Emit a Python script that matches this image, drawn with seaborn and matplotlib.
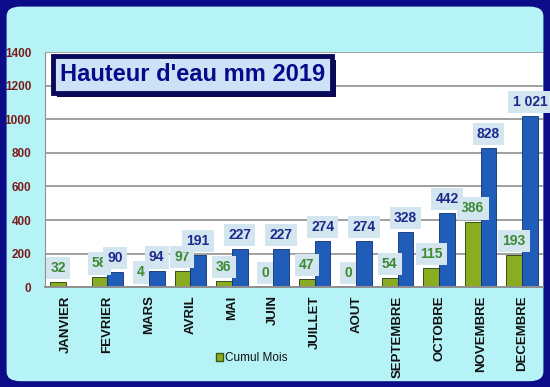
import numpy as np
import pandas as pd
import matplotlib
matplotlib.use("Agg")
import matplotlib.pyplot as plt
import matplotlib.patheffects as pe
from matplotlib.patches import FancyBboxPatch, Patch
from matplotlib.ticker import MultipleLocator
import seaborn as sns

sns.set_style("white")
plt.rcParams['font.family'] = ['Liberation Sans', 'DejaVu Sans']

# Data
mois = ['JANVIER', 'FEVRIER', 'MARS', 'AVRIL', 'MAI', 'JUIN', 'JUILLET',
        'AOUT', 'SEPTEMBRE', 'OCTOBRE', 'NOVEMBRE', 'DECEMBRE']
pluie_mois = [32, 58, 4, 97, 36, 0, 47, 0, 54, 115, 386, 193]
cumul = [np.nan, 90, 94, 191, 227, 227, 274, 274, 328, 442, 828, 1021]
y_ticks = [0, 200, 400, 600, 800, 1000, 1200, 1400]

df = pd.DataFrame({
    'mois': mois * 2,
    'mm': pluie_mois + cumul,
    'serie': ['Cumul Mois'] * len(mois) + ['Cumul'] * len(mois),
})

green = "#8aac20"
blue = "#1f5db8"

fig = plt.figure(figsize=(5.5, 3.87), dpi=100)
fig.patch.set_facecolor("#0c0c88")
# light cyan rounded panel
panel = FancyBboxPatch((0.012, 0.015), 0.976, 0.968,
                       boxstyle="round,pad=0,rounding_size=0.025",
                       transform=fig.transFigure, facecolor="#b6f3f7",
                       edgecolor="none", zorder=-5)
fig.patches.append(panel)

ax = fig.add_axes([0.082, 0.258, 0.905, 0.607])
ax.set_zorder(2)
ax.set_facecolor("white")

sns.barplot(data=df, x='mois', y='mm', hue='serie', order=mois,
            palette={'Cumul Mois': green, 'Cumul': blue}, saturation=1,
            width=0.76, gap=0.0, ax=ax, legend=False)

for cont, col, z in zip(ax.containers, ["#3d8a35", "#1b2a8c"], [5, 6]):
    for bar in cont:
        h = bar.get_height()
        if np.isnan(h):
            continue
        bar.set_edgecolor("#1a3a10" if col == "#3d8a35" else "#0f2f70")
        bar.set_linewidth(0.6)
        lab = f"{int(h):,}".replace(",", " ")
        ax.annotate(lab, (bar.get_x() + bar.get_width() / 2, h),
                    xytext=(0, 14), textcoords='offset pixels',
                    ha='center', va='center', fontsize=10, fontweight='bold',
                    color=col, zorder=z,
                    bbox=dict(boxstyle='square,pad=0.3', fc="#d3e5ee", ec='none'))

ax.set_ylim(0, 1400)
ax.set_xlim(-0.5, 11.5)
ax.set_yticks(y_ticks)
ax.yaxis.set_minor_locator(MultipleLocator(40))
ax.grid(axis='y', color="#a0a0a0", linewidth=1.4, zorder=0)
ax.set_axisbelow(True)
for s in ['top', 'right']:
    ax.spines[s].set_visible(False)
ax.spines['left'].set_color("#909090")
ax.spines['bottom'].set_color("#909090")
ax.spines['bottom'].set_linewidth(1.4)
ax.tick_params(axis='y', which='both', direction='inout', color="#909090",
               length=4, labelsize=8.5, labelcolor="#7a1c1c", pad=8)
ax.tick_params(axis='y', which='minor', length=3)
for t in ax.get_yticklabels():
    t.set_fontweight('bold')
ax.tick_params(axis='x', length=0, labelsize=9.5, pad=6)
ax.set_xticks(range(len(mois)))
ax.set_xticklabels(mois, rotation=90, fontweight='bold', color="#111111")
ax.set_xlabel("")
ax.set_ylabel("")

# title box with drop shadow
titre = ax.text(0.03, 0.905, "Hauteur d'eau mm 2019", transform=ax.transAxes,
                fontsize=17, fontweight='bold', color="#08088a", ha='left', va='center',
                zorder=10,
                bbox=dict(boxstyle='square,pad=0.3', fc="#cde2f6", ec="#0a0a5a", lw=3.5))
titre.get_bbox_patch().set_path_effects([
    pe.SimplePatchShadow(offset=(3, -3), shadow_rgbFace="#0a0a4a", alpha=1),
    pe.Normal()])

# legend (green series only)
fig.legend(handles=[Patch(facecolor=green, edgecolor="#3a5a10")], labels=['Cumul Mois'],
           loc='center', bbox_to_anchor=(0.458, 0.075), frameon=False,
           fontsize=8.5, handlelength=0.6, handleheight=0.6, handletextpad=0.2,
           labelcolor="#111111")

fig.savefig("out.png", dpi=100, facecolor=fig.get_facecolor())
